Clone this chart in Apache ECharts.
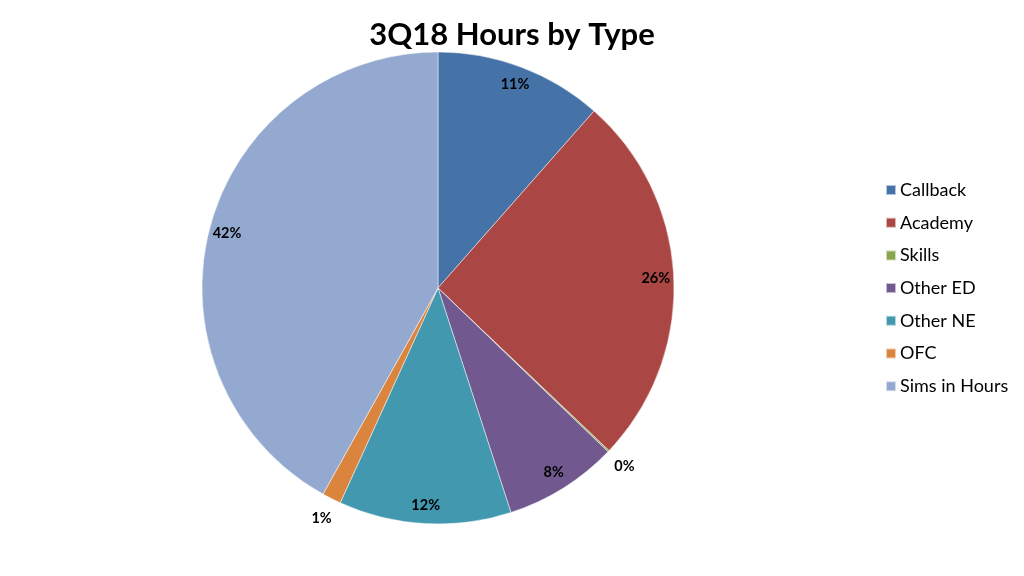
<!doctype html>
<html lang="en">
<head>
    <meta charset="UTF-8">
    <title>3Q18 Hours by Type</title>
    <script src="https://cdn.jsdelivr.net/npm/echarts@6/dist/echarts.min.js"></script>
    <style>
        html, body { margin: 0; padding: 0; background: #fff; }
        #chart { width: 1024px; height: 576px; }
    </style>
</head>
<body>
<div id="chart"></div>
<script>
    // 数据
    const categories = ['Callback', 'Academy', 'Skills', 'Other ED', 'Other NE', 'OFC', 'Sims in Hours']
    const shares = [11.5, 25.6, 0.1, 7.8, 11.8, 1.3, 41.9]
    const labels = ['11%', '26%', '0%', '8%', '12%', '1%', '42%']
    const colors = ['#4572A7', '#AA4643', '#89A54E', '#71588F', '#4198AF', '#DB843D', '#93A9CF']
    const smallSlices = ['Skills', 'OFC']  // 标签放在外面

    const chart = echarts.init(document.getElementById('chart'))
    const font = 'Lato, "Open Sans", sans-serif'

    const pieData = categories.map((name, i) => ({
        name: name,
        value: shares[i],
        itemStyle: {color: colors[i]}
    }))

    // 透明圆环只用来摆放百分比标签, outer=true 的是饼外面的小标签
    function labelRing(outer) {
        return categories.map((name, i) => {
            const isSmall = smallSlices.indexOf(name) >= 0
            return {
                name: name,
                value: shares[i],
                itemStyle: {color: 'rgba(0,0,0,0)', borderWidth: 0},
                label: {show: isSmall === outer}
            }
        })
    }

    const labelStyle = {
        position: 'inside',
        formatter: p => labels[p.dataIndex],
        fontFamily: font,
        fontSize: 14.5,
        fontWeight: 'bold',
        color: '#000'
    }

    const option = {
        animation: false,
        title: {
            text: '3Q18 Hours by Type',
            left: 'center',
            top: 14,
            textStyle: {fontFamily: font, fontSize: 31, fontWeight: 'bold', color: '#000'}
        },
        legend: {
            orient: 'vertical',
            left: 880,
            top: 176,
            data: categories,
            icon: 'rect',
            itemWidth: 10,
            itemHeight: 10,
            itemGap: 14.7,
            textStyle: {fontFamily: font, fontSize: 18, color: '#000', padding: [0, 0, 0, -1]}
        },
        series: [
            {
                type: 'pie',
                center: [438, 288],
                radius: [0, 236],
                startAngle: 90,
                clockwise: true,
                silent: true,
                label: {show: false},
                labelLine: {show: false},
                itemStyle: {borderColor: 'rgba(255,255,255,0.6)', borderWidth: 0.8},
                data: pieData
            },
            {
                type: 'pie',
                center: [438, 288],
                radius: [194, 236],
                startAngle: 90,
                clockwise: true,
                silent: true,
                legendHoverLink: false,
                avoidLabelOverlap: false,
                label: labelStyle,
                labelLine: {show: false},
                data: labelRing(false)
            },
            {
                type: 'pie',
                center: [438, 288],
                radius: [236, 274],
                startAngle: 90,
                clockwise: true,
                silent: true,
                legendHoverLink: false,
                avoidLabelOverlap: false,
                label: labelStyle,
                labelLine: {show: false},
                data: labelRing(true)
            }
        ]
    }
    chart.setOption(option)
</script>
</body>
</html>
